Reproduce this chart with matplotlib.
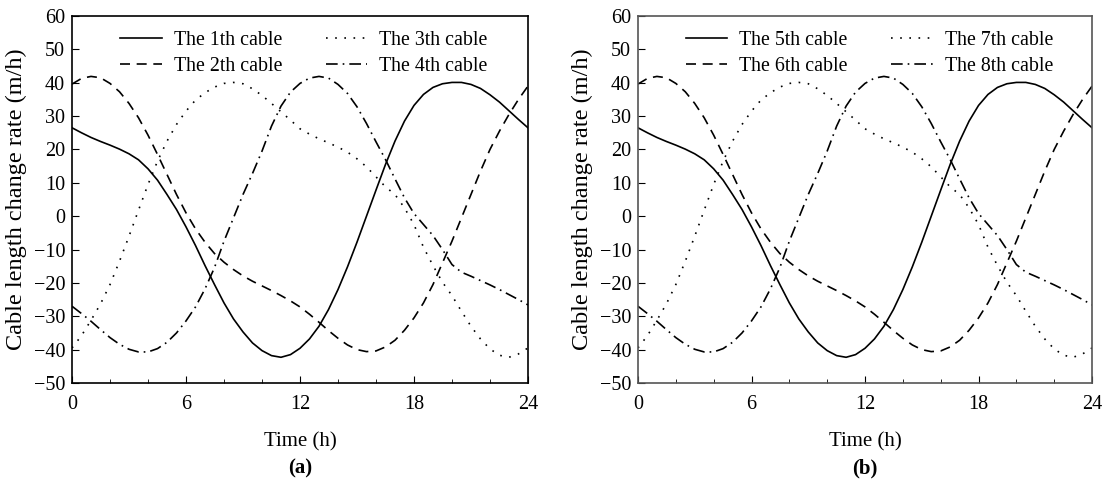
import matplotlib

matplotlib.use("Agg")
import matplotlib.pyplot as plt
import numpy as np
from matplotlib.ticker import MultipleLocator

plt.rcParams["font.family"] = ["Liberation Serif", "DejaVu Serif"]
plt.rcParams["mathtext.fontset"] = "stix"

# time grid (h), half-hour readings
t = np.arange(0, 24.5, 0.5)

cable_a = [26.5, 25.0, 23.6, 22.4, 21.3, 20.1, 18.7, 16.9, 14.2, 10.8,
           6.5, 2.0, -3.2, -8.8, -14.8, -20.5, -26.0, -30.8, -34.7, -38.0,
           -40.3, -41.8, -42.3, -41.5, -39.6, -36.8, -33.0, -28.0, -22.0, -15.2,
           -7.8, 0.0, 7.8, 15.5, 22.5, 28.5, 33.2, 36.5, 38.6, 39.7,
           40.1, 40.1, 39.5, 38.3, 36.4, 34.2, 31.6, 29.0, 26.5]
cable_b = [39.6, 41.3, 41.9, 41.5, 39.8, 37.3, 33.8, 29.5, 24.3, 18.5,
           12.5, 6.5, 1.0, -3.8, -7.8, -11.2, -13.8, -16.0, -17.9, -19.5,
           -20.9, -22.3, -23.8, -25.4, -27.2, -29.4, -31.8, -34.3, -36.6, -38.6,
           -40.0, -40.6, -40.4, -39.2, -37.2, -34.2, -30.5, -26.0, -20.5, -14.0,
           -7.5, -0.5, 6.5, 13.5, 20.0, 25.5, 30.5, 35.0, 39.0]
cable_c = [-39.5, -35.8, -31.2, -26.3, -20.5, -13.5, -6.0, 1.8, 9.5, 16.5,
           22.5, 27.5, 31.5, 34.8, 37.0, 38.7, 39.8, 40.1, 39.7, 38.2,
           36.2, 33.8, 31.3, 28.8, 26.2, 24.6, 23.2, 22.0, 20.7, 19.2,
           17.2, 14.8, 11.8, 8.8, 6.5, 2.5, -2.5, -9.3, -14.8, -19.8,
           -23.8, -28.5, -33.0, -36.8, -39.8, -41.7, -42.3, -41.3, -39.5]
cable_d = [-27.0, -29.2, -31.5, -34.0, -36.4, -38.4, -39.9, -40.7, -40.7, -39.7,
           -37.8, -35.0, -31.4, -27.2, -21.8, -15.4, -7.5, -0.5, 6.5, 12.8,
           19.5, 27.0, 33.0, 37.2, 39.8, 41.4, 41.9, 41.4, 39.5, 36.8,
           32.8, 27.8, 22.3, 17.0, 11.2, 5.5, 0.8, -2.5, -5.8, -10.0,
           -14.5, -16.8, -18.0, -19.3, -20.6, -22.0, -23.5, -25.0, -26.6]

labels_a = ["The 1th cable", "The 2th cable", "The 3th cable", "The 4th cable"]
labels_b = ["The 5th cable", "The 6th cable", "The 7th cable", "The 8th cable"]
styles = ["-", (0, (6, 4)), (0, (1, 4.5)), (0, (7, 3, 1, 3))]

fig = plt.figure(figsize=(11.08, 4.86), dpi=100)
axA = fig.add_axes([0.065, 0.212, 0.4115, 0.755])
axB = fig.add_axes([0.5758, 0.212, 0.4098, 0.755])

for ax, labels, tag, spc in ((axA, labels_a, "(a)", "black"), (axB, labels_b, "(b)", "#555555")):
    for y, lab, ls in zip((cable_a, cable_b, cable_c, cable_d), labels, styles):
        ax.plot(t, y, color="black", lw=1.2, ls=ls, label=lab)
    ax.set_xlim(0, 24)
    ax.set_ylim(-50, 60)
    ax.xaxis.set_major_locator(MultipleLocator(6))
    ax.xaxis.set_minor_locator(MultipleLocator(2))
    ax.yaxis.set_major_locator(MultipleLocator(10))
    ax.tick_params(which="both", direction="in", labelsize=14.5, top=False, right=False)
    ax.tick_params(which="major", length=5)
    ax.tick_params(which="minor", length=3)
    ax.tick_params(axis="x", pad=9)
    ax.tick_params(axis="y", pad=5)
    for s in ax.spines.values():
        s.set_color(spc)
        s.set_linewidth(1.2)
    ax.set_xlabel("Time (h)", fontsize=15, labelpad=13)
    ax.set_ylabel("Cable length change rate (m/h)", fontsize=17.5, labelpad=5)
    ax.legend(ncol=2, loc="upper left", bbox_to_anchor=(0.105, 0.96), frameon=False,
              fontsize=14.3, handlelength=2.1, handletextpad=0.6, columnspacing=2.2,
              labelspacing=0.35, borderpad=0, borderaxespad=0)
    ax.text(0.5, -0.205, tag, transform=ax.transAxes, ha="center", va="top",
            fontsize=15, fontweight="bold")

fig.savefig("out.png", dpi=100)
